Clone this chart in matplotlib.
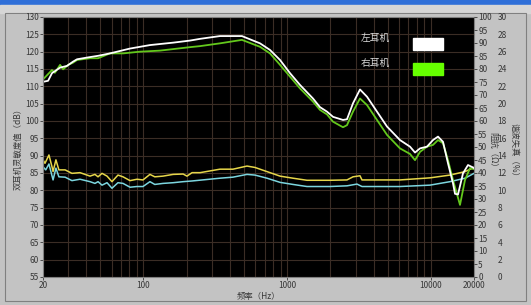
import numpy as np
import matplotlib
matplotlib.use("Agg")
import matplotlib.pyplot as plt
from matplotlib.patches import Rectangle
from matplotlib.ticker import FixedLocator, NullFormatter

plt.rcParams['font.family'] = ['Noto Sans CJK SC', 'DejaVu Sans']

# curves (frequency in Hz, level in left-axis units)
white_freq = [20, 21.7, 23.1, 26.3, 29.4, 32.3, 34.5, 40.5, 48.3, 58.5, 68.7, 80.7,
              111, 161, 211, 248, 341, 485, 648, 760, 893, 1048, 1230, 1514,
              1694, 1896, 2088, 2450, 2612, 2876, 3217, 3600, 4225, 4960, 6108,
              7170, 7770, 8420, 9416, 10366, 11232, 12170, 13184, 14286, 14752,
              15477, 16766, 18164, 19680, 20000]
white_db = [111.3, 111.6, 113.8, 115.4, 115.9, 117.1, 117.8, 118.3, 118.8, 119.5, 120.2, 120.9,
            121.9, 122.6, 123.2, 123.7, 124.5, 124.5, 122.4, 120.5, 117.6, 113.8, 110.4, 106.5,
            104.0, 102.7, 101.2, 100.3, 100.5, 105.1, 109.1, 107.0, 102.7, 98.4, 94.5,
            92.6, 90.9, 92.1, 92.6, 94.5, 95.5, 94.0, 87.8, 82.0, 79.0,
            78.8, 84.9, 87.3, 86.6, 86.4]

green_freq = [20, 20.65, 23.1, 24.2, 26.3, 27.6, 30, 32.3, 34.5, 42.5, 48.3, 58.5,
              72.1, 94.7, 130, 211, 248, 341, 485, 648, 760, 893, 1048, 1230,
              1514, 1694, 1896, 2088, 2450, 2612, 2876, 3217, 3600, 4225, 4960,
              6108, 7170, 7770, 8420, 9416, 10366, 11232, 12170, 13184, 14286,
              15980, 17312, 18756, 20000]
green_db = [112.0, 112.6, 114.7, 113.9, 116.2, 114.9, 116.2, 116.8, 117.6, 118.1, 118.1, 119.5,
            119.5, 120.0, 120.3, 121.3, 121.6, 122.4, 123.4, 121.4, 119.5, 116.2, 112.8, 109.4,
            105.6, 103.2, 101.9, 99.8, 98.2, 98.8, 102.7, 106.5, 104.6, 100.3, 96.0,
            92.1, 90.5, 88.7, 91.1, 92.6, 93.1, 94.5, 93.6, 88.7, 83.0,
            75.8, 83.0, 86.4, 86.1]

yellow_freq = [20, 20.65, 22.0, 23.1, 23.5, 24.6, 25.8, 28.5, 31.8, 36.2, 42.5, 46.0,
               48.3, 51.5, 55.8, 60.4, 66.5, 72.1, 80.7, 90.2, 99.3, 111, 120, 137,
               161, 189, 201, 218, 248, 341, 420, 526, 598, 725, 893, 1099, 1376,
               1989, 2612, 2876, 3217, 3322, 6108, 9880, 13614, 17312, 20000]
yellow_db = [88.8, 87.8, 90.2, 86.8, 85.4, 88.8, 85.9, 85.9, 84.9, 85.1, 84.1, 84.6,
             83.9, 84.9, 84.1, 82.5, 84.4, 83.9, 82.8, 83.2, 83.0, 84.6, 83.9, 84.1,
             84.6, 84.7, 84.1, 85.1, 85.1, 86.1, 86.1, 87.0, 86.6, 85.4, 84.1, 83.5, 82.9,
             82.9, 83.0, 83.9, 84.2, 83.0, 83.0, 83.6, 84.4, 85.4, 86.6]

cyan_freq = [20, 20.9, 22.0, 23.5, 24.6, 25.8, 28.5, 31.8, 36.2, 42.5, 46.0, 48.3,
             51.5, 55.8, 60.4, 66.5, 72.1, 80.7, 90.2, 99.3, 111, 120, 137, 161,
             189, 218, 341, 420, 526, 598, 725, 893, 1099, 1376, 1989, 2612,
             3066, 3322, 6108, 9880, 13614, 17312, 20000]
cyan_db = [86.8, 85.9, 87.6, 83.0, 86.4, 83.9, 83.8, 82.8, 83.2, 82.5, 82.0, 82.5,
           81.5, 82.2, 80.6, 82.2, 82.0, 80.9, 81.1, 81.1, 82.5, 81.7, 82.0, 82.2,
           82.5, 82.7, 83.5, 83.8, 84.6, 84.4, 83.5, 82.3, 81.7, 81.1, 81.1, 81.3,
           81.8, 81.1, 81.1, 81.5, 82.5, 83.5, 84.9]

x_ticks = [20, 100, 1000, 10000, 20000]
legend_labels = ['左耳机', '右耳机']

W, H = 531, 305
fig = plt.figure(figsize=(W / 100, H / 100), dpi=100)
fig.patch.set_facecolor('#c3c3c3')

# window chrome: blue title strip, lighter band, panel border
fig.add_artist(Rectangle((0, 1 - 5 / H), 1, 5 / H, transform=fig.transFigure,
                         color='#2f6fd8', zorder=0))
fig.add_artist(Rectangle((0, 1 - 13 / H), 1, 8 / H, transform=fig.transFigure,
                         color='#d6d6d6', zorder=0))
fig.add_artist(Rectangle((5 / W, 4 / H), 1 - 10 / W, 1 - 17 / H, transform=fig.transFigure,
                         fill=False, ec='#808080', lw=0.8, zorder=0))

ax = fig.add_axes([43 / W, 1 - 277 / H, (474 - 43) / W, (277 - 17) / H])
ax.set_facecolor('black')
ax.set_xscale('log')
ax.set_xlim(20, 20000)
ax.set_ylim(55, 130)

grid_c = '#3b2d25'
ax.xaxis.set_major_locator(FixedLocator(x_ticks))
ax.xaxis.set_minor_locator(FixedLocator([f * d for d in (10, 100, 1000) for f in range(2, 10)] + [20000]))
ax.xaxis.set_minor_formatter(NullFormatter())
ax.set_xticklabels([str(t) for t in x_ticks])
ax.set_yticks(np.arange(55, 131, 5))
ax.grid(True, which='both', color=grid_c, lw=0.8)
ax.tick_params(which='minor', length=0)
ax.tick_params(which='major', length=2, width=0.6, labelsize=6, colors='#383838', pad=1)
for s in ax.spines.values():
    s.set_color('#808080')
    s.set_linewidth(0.8)

ax.plot(yellow_freq, yellow_db, color='#e6d64a', lw=1.1)
ax.plot(cyan_freq, cyan_db, color='#7cd6df', lw=1.1)
ax.plot(green_freq, green_db, color='#63c81c', lw=1.3)
ax.plot(white_freq, white_db, color='white', lw=1.3)

ax.set_xlabel('频率（Hz）', fontsize=6, labelpad=1, color='#383838')
ax.set_ylabel('双耳机灵敏度值（dB）', fontsize=6, labelpad=2, color='#383838')

# legend drawn as text plus colour boxes, like the instrument panel
ax.text((375 - 43) / 431, 1 - (38 - 17) / 260, legend_labels[0],
        transform=ax.transAxes, color='#d8d8d8', fontsize=7, va='center', ha='center')
ax.text((375 - 43) / 431, 1 - (63 - 17) / 260, legend_labels[1],
        transform=ax.transAxes, color='#d8d8d8', fontsize=7, va='center', ha='center')
for y0, col in ((38, 'white'), (63, '#66ff00')):
    ax.add_patch(Rectangle(((413 - 43) / 431, 1 - (y0 + 12 - 17) / 260), 30 / 431, 12 / 260,
                           transform=ax.transAxes, color=col, zorder=5))

# impedance axis
ax2 = ax.twinx()
ax2.set_ylim(0, 100)
ax2.set_yticks(np.arange(0, 101, 5))
ax2.tick_params(length=2, width=0.6, labelsize=6, colors='#383838', pad=1)
ax2.set_ylabel('阻抗（Ω）', fontsize=6, color='#383838', rotation=270, va='center')
ax2.yaxis.set_label_coords((493 - 43) / 431, 0.48)
for s in ax2.spines.values():
    s.set_visible(False)

# distortion axis (spine offset is in points)
ax3 = ax.twinx()
ax3.set_ylim(0, 30)
ax3.set_yticks(np.arange(0, 31, 2))
ax3.spines['right'].set_position(('outward', 16))
for s in ax3.spines.values():
    s.set_visible(False)
ax3.tick_params(length=0, labelsize=6, colors='#383838', pad=1)
ax3.set_ylabel('谐波失真（%）', fontsize=6, color='#383838', rotation=270, va='center')
ax3.yaxis.set_label_coords((514 - 43) / 431, 0.48)

fig.savefig('out.png', dpi=100, facecolor=fig.get_facecolor())
